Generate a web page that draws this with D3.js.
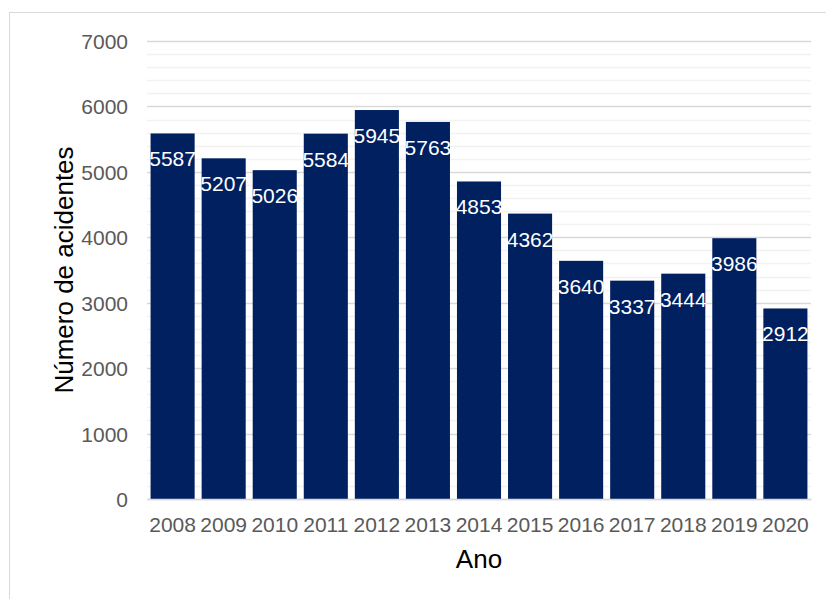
<!DOCTYPE html>
<html><head><meta charset="utf-8">
<script src="https://cdn.jsdelivr.net/npm/d3@7"></script>
<style>html,body{margin:0;padding:0;background:#fff;}svg{display:block;}</style>
</head><body>
<svg id="c" width="826" height="599"></svg>
<script>
const years = ["2008","2009","2010","2011","2012","2013","2014","2015","2016","2017","2018","2019","2020"];
const values = [5587,5207,5026,5584,5945,5763,4853,4362,3640,3337,3444,3986,2912];
const yTicks = [0,1000,2000,3000,4000,5000,6000,7000];
const yMinorTicks = d3.range(0,7001,200);

const svg = d3.select("#c");
const font = "'Liberation Sans', Arial, sans-serif";
const m = {l:147, r:811, t:41, b:499};

svg.append("rect").attr("x",9.5).attr("y",12.5).attr("width",840).attr("height",620)
  .attr("fill","#fff").attr("stroke","#d9d9d9").attr("stroke-width",1);

const x = d3.scaleBand().domain(years).range([m.l,m.r]).paddingInner(0.137).paddingOuter(0.07);
const y = d3.scaleLinear().domain([0,7000]).range([m.b,m.t]);

svg.append("g").selectAll("line").data(yMinorTicks.filter(v=>v%1000!==0)).join("line")
  .attr("x1",m.l).attr("x2",m.r).attr("y1",d=>Math.round(y(d))+0.5).attr("y2",d=>Math.round(y(d))+0.5)
  .attr("stroke","#f2f2f2").attr("stroke-width",1.5);
svg.append("g").selectAll("line").data(yTicks).join("line")
  .attr("x1",m.l).attr("x2",m.r).attr("y1",d=>Math.round(y(d))+0.5).attr("y2",d=>Math.round(y(d))+0.5)
  .attr("stroke","#d9d9d9").attr("stroke-width",1.5);

svg.append("g").selectAll("rect").data(values).join("rect")
  .attr("x",(d,i)=>x(years[i])).attr("width",x.bandwidth())
  .attr("y",d=>y(d)).attr("height",d=>y(0)-y(d)).attr("fill","#002060");

svg.append("g").selectAll("text").data(values).join("text")
  .attr("x",(d,i)=>x(years[i])+x.bandwidth()/2).attr("y",d=>y(d)+33)
  .attr("text-anchor","middle").attr("font-family",font).attr("font-size",21)
  .attr("fill","#fff").text(d=>d);

// y axis
const ya = svg.append("g").attr("transform",`translate(${m.l},0)`)
  .call(d3.axisLeft(y).tickValues(yTicks).tickSize(0).tickPadding(19).tickFormat(d3.format("d")));
ya.select(".domain").remove();
ya.selectAll("text").attr("font-family",font).attr("font-size",21).attr("fill","#595959").attr("dy","0.36em");

// x axis
const xa = svg.append("g").attr("transform",`translate(0,${m.b})`)
  .call(d3.axisBottom(x).tickSize(0).tickPadding(18));
xa.select(".domain").attr("stroke","#d9d9d9").attr("stroke-width",1.5);
xa.selectAll("text").attr("font-family",font).attr("font-size",21).attr("fill","#595959").attr("dy","0.71em");

svg.append("text").attr("x",(m.l+m.r)/2).attr("y",568).attr("text-anchor","middle")
  .attr("font-family",font).attr("font-size",26).attr("fill","#000").text("Ano");
svg.append("text").attr("transform",`translate(73,${(m.t+m.b)/2}) rotate(-90)`).attr("text-anchor","middle")
  .attr("font-family",font).attr("font-size",26).attr("fill","#000").text("Número de acidentes");
</script>
</body></html>
